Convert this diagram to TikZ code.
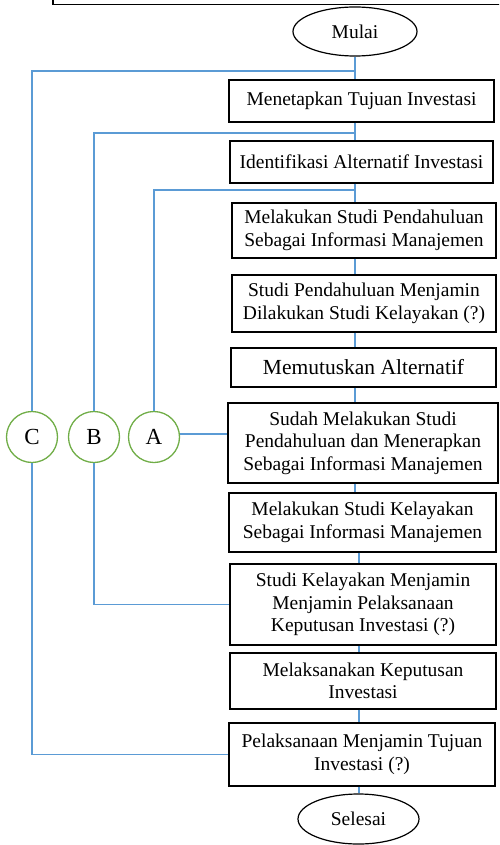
\documentclass[tikz,border=0pt]{standalone}
\usepackage{fontspec}
\setmainfont{Liberation Serif}
\usetikzlibrary{shapes.geometric}
\definecolor{linkblue}{RGB}{91,155,213}
\definecolor{ringgreen}{RGB}{112,173,71}
\begin{document}
\begin{tikzpicture}[x=1pt,y=-1pt,
  stepbox/.style={draw=black,line width=1.4pt,align=center,inner sep=0pt,
    font=\fontsize{19.5}{22.5}\selectfont},
  terminal/.style={draw=black,line width=1.2pt,ellipse,inner sep=0pt,
    font=\fontsize{19.5}{22.5}\selectfont},
  ring/.style={draw=ringgreen,line width=1.3pt,circle,inner sep=0pt,
    minimum size=51pt,font=\fontsize{23}{26}\selectfont},
  link/.style={draw=linkblue,line width=1.2pt}]
\useasboundingbox (0,0) rectangle (499,845);

% frame running off the top of the page
\begin{scope}
\clip (0,0) rectangle (499,845);
\draw[line width=1.4pt] (53,-20) rectangle (520,4.5);
\end{scope}

% terminals
\node[terminal,minimum width=124pt,minimum height=49pt] (mulai) at (355,31.5) {Mulai};
\node[terminal,minimum width=121pt,minimum height=50pt] (selesai) at (358.5,819) {Selesai};

% process steps
\node[stepbox,minimum width=265pt,minimum height=42pt] (b1) at (361.5,101) {Menetapkan Tujuan Investasi};
\node[stepbox,minimum width=263pt,minimum height=42pt] (b2) at (361.5,162) {Identifikasi Alternatif Investasi};
\node[stepbox,minimum width=264pt,minimum height=55pt] (b3) at (364,230.5) {Melakukan Studi Pendahuluan\\Sebagai Informasi Manajemen};
\node[stepbox,minimum width=264pt,minimum height=57pt] (b4) at (364,303.5) {Studi Pendahuluan Menjamin\\Dilakukan Studi Kelayakan (?)};
\node[stepbox,minimum width=265pt,minimum height=39pt,font=\fontsize{21.5}{24}\selectfont] (b5) at (363.5,367.5) {Memutuskan Alternatif};
\node[stepbox,minimum width=270pt,minimum height=80pt] (b6) at (363,443) {Sudah Melakukan Studi\\Pendahuluan dan Menerapkan\\Sebagai Informasi Manajemen};
\node[stepbox,minimum width=267pt,minimum height=59pt] (b7) at (362.5,522.5) {Melakukan Studi Kelayakan\\Sebagai Informasi Manajemen};
\node[stepbox,minimum width=266pt,minimum height=81pt] (b8) at (363,604.5) {Studi Kelayakan Menjamin\\Menjamin Pelaksanaan\\Keputusan Investasi (?)};
\node[stepbox,minimum width=266pt,minimum height=56pt] (b9) at (363,681) {Melaksanakan Keputusan\\Investasi};
\node[stepbox,minimum width=266pt,minimum height=63pt] (b10) at (362,754.5) {Pelaksanaan Menjamin Tujuan\\Investasi (?)};

% loop-back connectors
\node[ring] (C) at (32,437) {C};
\node[ring] (B) at (94,437) {B};
\node[ring] (A) at (154,437) {A};

% main flow line
\coordinate (up) at (355,0);
\coordinate (lo) at (359,0);
\draw[link] (mulai.south -| up) -- (b1.north -| up);
\draw[link] (b1.south -| up) -- (b2.north -| up);
\draw[link] (b2.south -| up) -- (b3.north -| up);
\draw[link] (b3.south -| up) -- (b4.north -| up);
\draw[link] (b4.south -| up) -- (b5.north -| up);
\draw[link] (b5.south -| up) -- (b6.north -| up);
\draw[link] (b6.south -| up) -- (b7.north -| up);
\draw[link] (b7.south -| lo) -- (b8.north -| lo);
\draw[link] (b8.south -| lo) -- (b9.north -| lo);
\draw[link] (b9.south -| lo) -- (b10.north -| lo);
\draw[link] (b10.south -| lo) -- (selesai.north -| lo);

% junctions on the flow line
\coordinate (jC) at (355,71);
\coordinate (jB) at (355,133);
\coordinate (jA) at (355,190);

\draw[link] (C.north) |- (jC);
\draw[link] (B.north) |- (jB);
\draw[link] (A.north) |- (jA);
\draw[link] ([yshift=3pt]A.east) -- ([yshift=3pt]A.east -| b6.west);
\draw[link] (B.south) |- (b8.west);
\draw[link] (C.south) |- (b10.west);
\end{tikzpicture}
\end{document}
